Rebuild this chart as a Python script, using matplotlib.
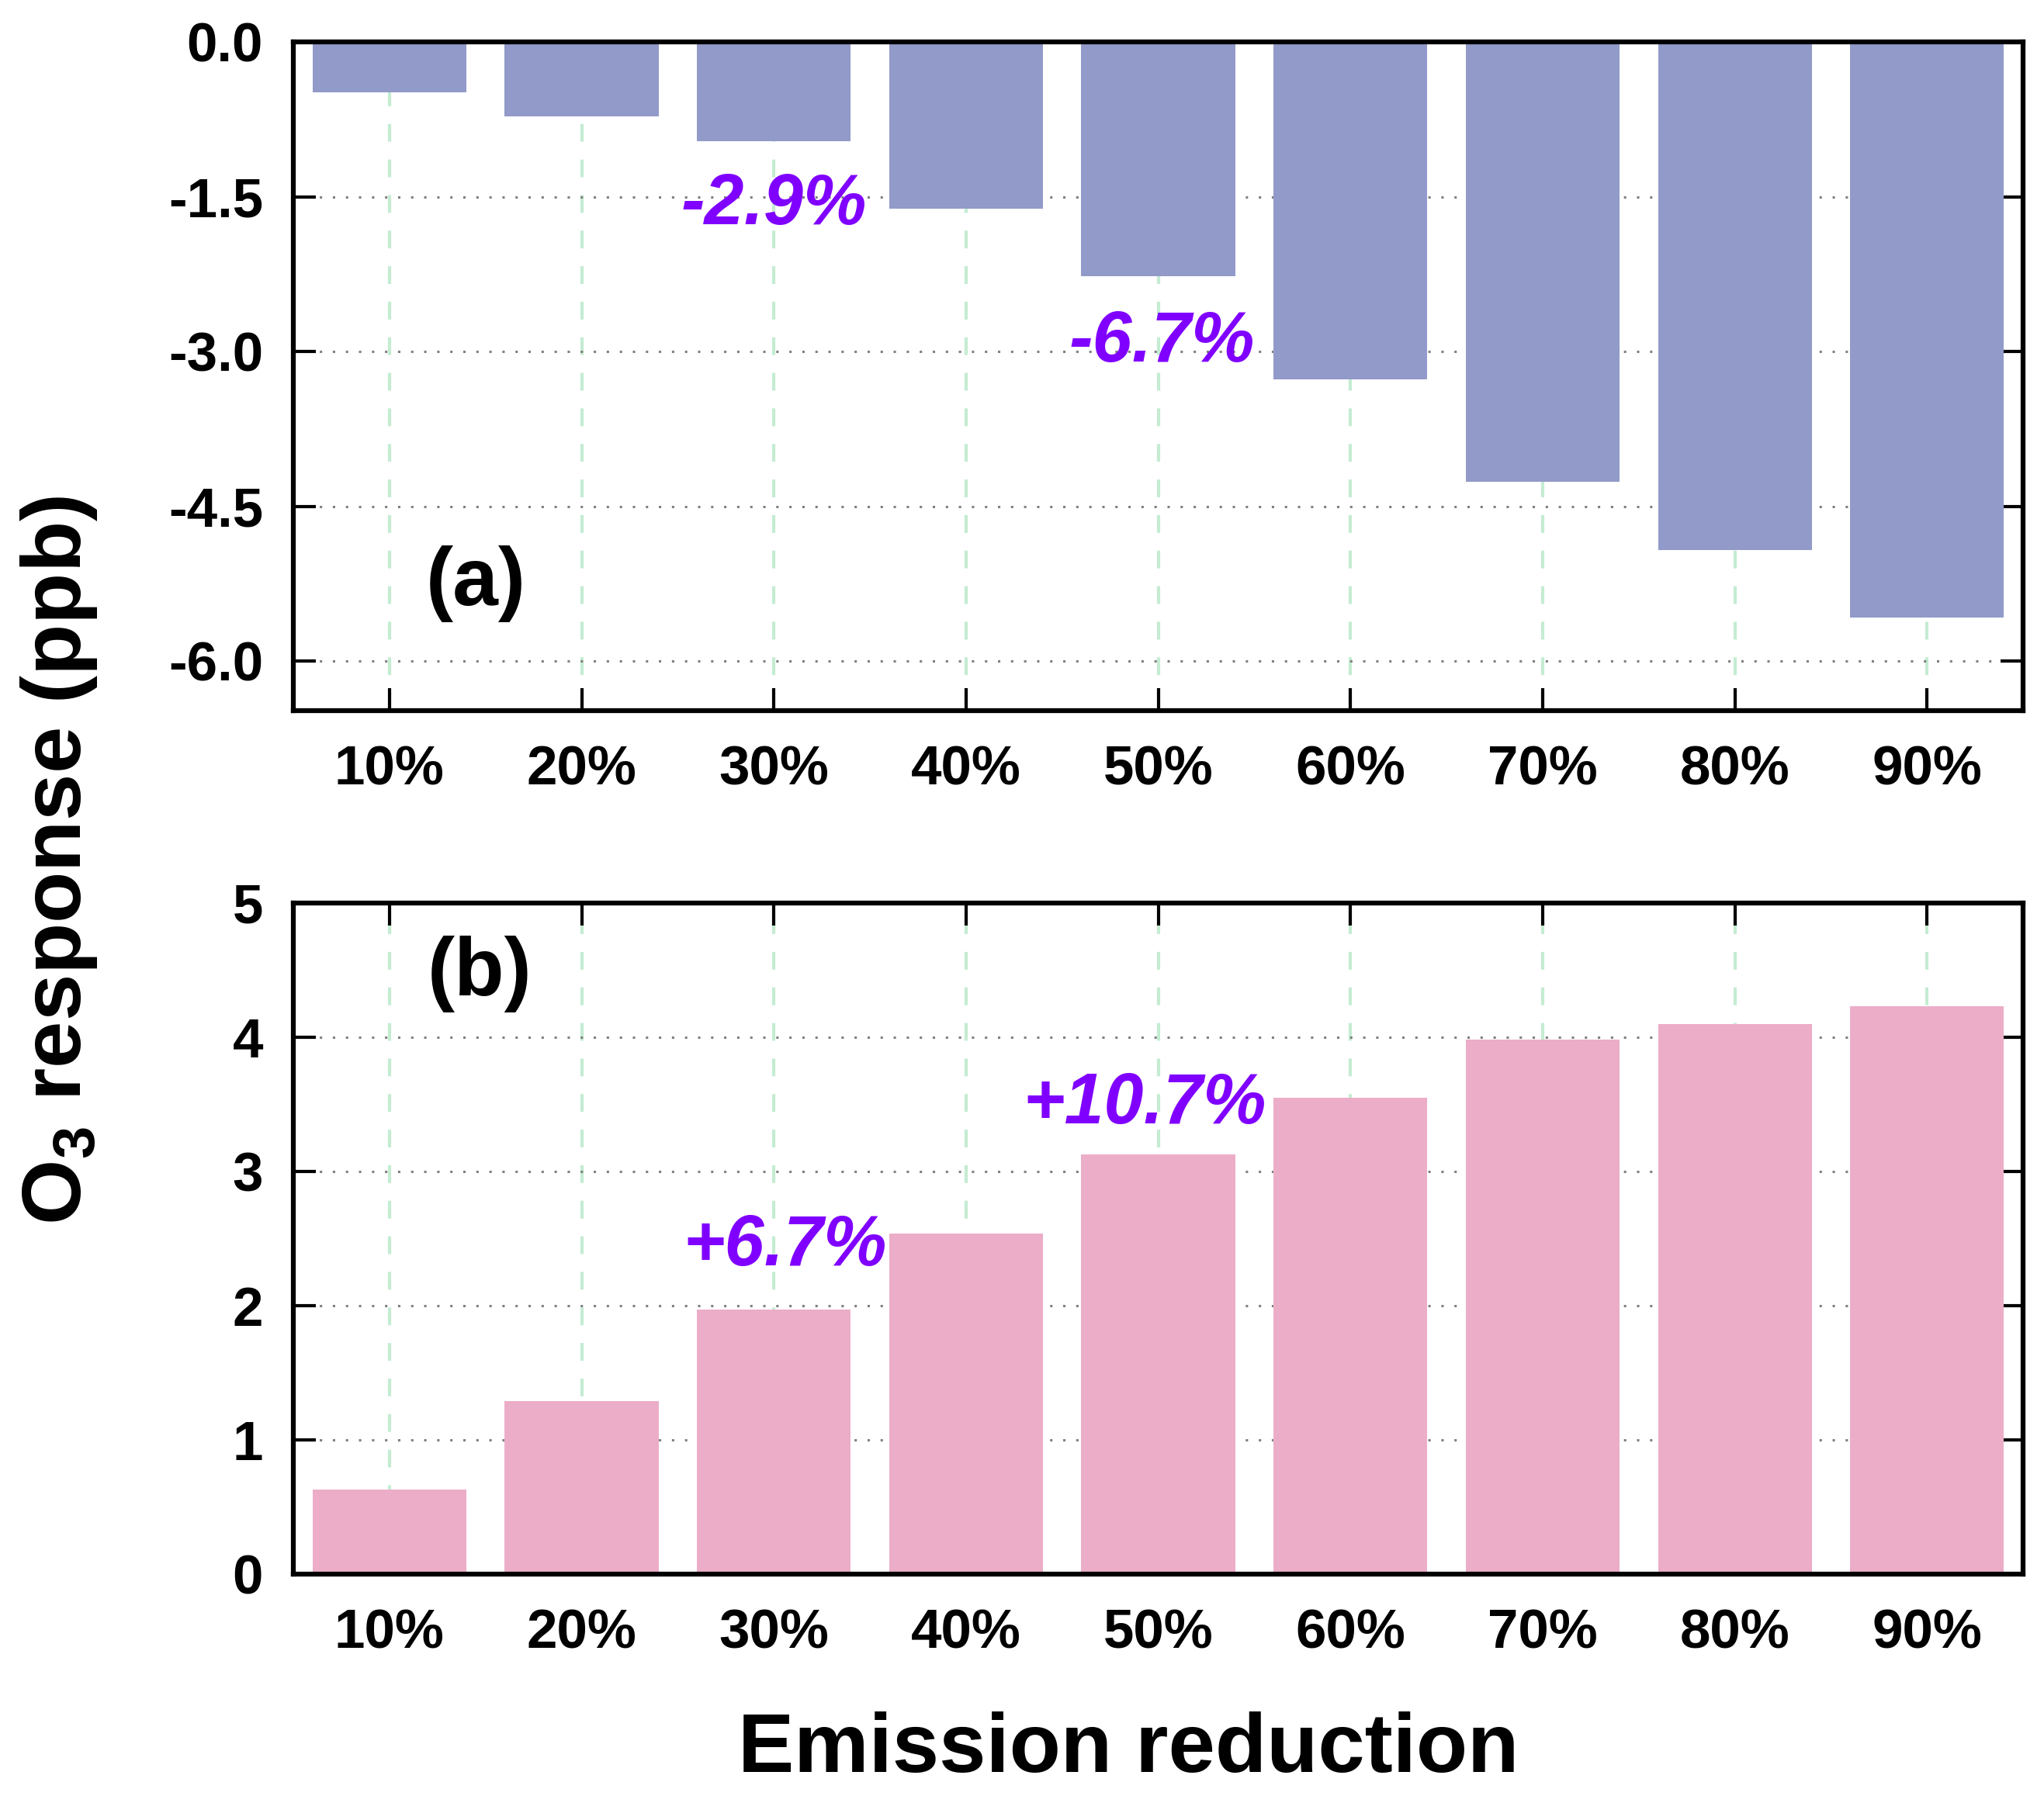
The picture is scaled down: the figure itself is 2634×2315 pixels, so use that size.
import matplotlib
matplotlib.use("Agg")
import matplotlib.pyplot as plt
import numpy as np

plt.rcParams['font.family'] = ['Liberation Sans', 'DejaVu Sans']
plt.rcParams['font.weight'] = 'bold'
plt.rcParams['mathtext.fontset'] = 'custom'
plt.rcParams['mathtext.rm'] = 'Liberation Sans:bold'
plt.rcParams['mathtext.bf'] = 'Liberation Sans:bold'

# Datos
categorias = ["10%", "20%", "30%", "40%", "50%", "60%", "70%", "80%", "90%"]
resp_a = [-0.49, -0.72, -0.96, -1.62, -2.27, -3.27, -4.26, -4.92, -5.58]
resp_b = [0.63, 1.29, 1.97, 2.54, 3.13, 3.55, 3.98, 4.10, 4.23]
ticks_a = [0.0, -1.5, -3.0, -4.5, -6.0]
ticks_b = [0, 1, 2, 3, 4, 5]
notas_a = [("-2.9%", 2.0, -1.59), ("-6.7%", 4.02, -2.92)]
notas_b = [("+6.7%", 2.06, 2.44), ("+10.7%", 3.93, 3.50)]

color_a = "#919ac8"
color_b = "#ecadc8"
morado = "#8000ff"

fig = plt.figure(figsize=(26.34, 23.15), dpi=100)
ax1 = fig.add_axes([0.1435, 0.6043, 0.8463, 0.3724])
ax2 = fig.add_axes([0.1435, 0.1235, 0.8463, 0.3737])

x = np.arange(len(categorias))


def estilo(ax, ticks, fmt):
    ax.set_xlim(-0.5, len(categorias) - 0.5)
    ax.set_xticks(x)
    ax.set_xticklabels(categorias)
    ax.set_yticks(ticks)
    ax.set_yticklabels([fmt % t for t in ticks])
    for s in ax.spines.values():
        s.set_linewidth(4.5)
    ax.tick_params(direction="in", length=21, width=3, labelsize=51,
                   top=True, right=True)
    ax.tick_params(axis="x", pad=32)
    ax.tick_params(axis="y", pad=28)
    for lab in ax.get_xticklabels() + ax.get_yticklabels():
        lab.set_fontweight("bold")
    ax.set_axisbelow(True)
    # rejilla
    ax.yaxis.grid(True, linestyle=(0, (1, 4.5)), color="#808080", linewidth=2.2)
    ax.xaxis.grid(True, linestyle=(0, (5.5, 5.5)), color="#c4ecd2", linewidth=3)


ax1.bar(x, resp_a, width=0.8, color=color_a, zorder=2)
ax1.set_ylim(-6.48, 0)
estilo(ax1, ticks_a, "%.1f")
for txt, xx, yy in notas_a:
    ax1.text(xx, yy, txt, color=morado, fontsize=66, fontweight="bold",
             fontstyle="italic", ha="center", va="center", zorder=5)
ax1.text(0.45, -5.25, "(a)", fontsize=76, fontweight="bold",
         ha="center", va="center")

ax2.bar(x, resp_b, width=0.8, color=color_b, zorder=2)
ax2.set_ylim(0, 5)
estilo(ax2, ticks_b, "%d")
for txt, xx, yy in notas_b:
    ax2.text(xx, yy, txt, color=morado, fontsize=66, fontweight="bold",
             fontstyle="italic", ha="center", va="center", zorder=5)
ax2.text(0.47, 4.47, "(b)", fontsize=76, fontweight="bold",
         ha="center", va="center")

fig.text(0.029, 0.521, r"O$_3$ response (ppb)", rotation=90, fontsize=78,
         fontweight="bold", ha="center", va="center")
fig.text(0.552, 0.0253, "Emission reduction", fontsize=78,
         fontweight="bold", ha="center", va="center")

fig.savefig("out.png", dpi=100)
